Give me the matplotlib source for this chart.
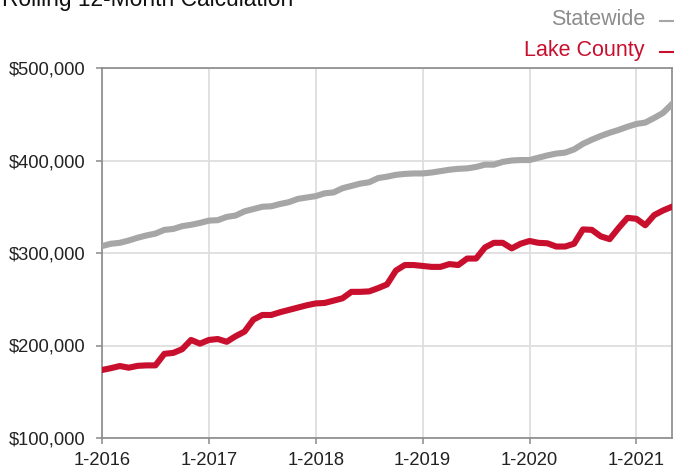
import matplotlib.pyplot as plt
from matplotlib.lines import Line2D

# monthly rolling 12-month median, 1-2016 .. 5-2021 (in $1,000s)
statewide = [307.5, 310, 311, 313.5, 316.5, 319, 321, 325, 326, 329, 330.5, 332.5,
             335, 335.5, 339, 340.5, 345, 347.5, 350, 350.5, 353, 355, 358.5, 360,
             361.5, 364.5, 365.5, 370, 372.5, 375, 376.5, 381, 382.5, 384.5, 385.5, 386,
             386, 387, 388.5, 390, 391, 391.5, 393, 395.5, 395.5, 398.5, 400, 400.5,
             400.5, 403, 405.5, 407.5, 408.5, 412, 418, 422.5, 426.5, 430, 433, 436.5,
             439.5, 441, 446, 451.5, 461]
lake_county = [173.5, 175.5, 177.8, 176, 178, 178.5, 178.5, 191, 192, 196, 206, 202,
               206, 207, 204, 210, 215, 228, 233, 233, 236, 238.5, 241, 243.5,
               245.5, 246, 248.5, 251, 258, 258, 258.5, 262, 266, 281, 287, 287,
               286, 285, 285, 288, 287, 294, 294, 306, 311, 311, 305, 310,
               313, 311, 310.5, 307, 307, 310, 325.5, 325, 318, 315, 327, 338,
               337, 330, 341, 346, 350]
year_labels = ["1-2016", "1-2017", "1-2018", "1-2019", "1-2020", "1-2021"]
y_ticks = [100, 200, 300, 400, 500]

GRAY = "#a6a6a6"
RED = "#c8102e"

plt.rcParams['font.family'] = ['Liberation Sans', 'DejaVu Sans']

fig = plt.figure(figsize=(6.74, 4.70), dpi=100)
ax = fig.add_axes([102 / 674, 1 - 438 / 470, 570 / 674, 370 / 470])

months = range(len(statewide))
ax.plot(months, [v * 1000 for v in statewide], color=GRAY, lw=4.4, solid_joinstyle='round', zorder=3)
ax.plot(months, [v * 1000 for v in lake_county], color=RED, lw=4.4, solid_joinstyle='round', zorder=3)

ax.set_xlim(0, 64)
ax.set_ylim(100000, 500000)
ax.set_xticks([12 * i for i in range(len(year_labels))])
ax.set_xticklabels(year_labels)
ax.set_yticks([v * 1000 for v in y_ticks])
ax.set_yticklabels([f"${v * 1000:,.0f}" for v in y_ticks])

ax.grid(True, color="#dedede", lw=1.3, zorder=0)
for s in ax.spines.values():
    s.set_color("#8a8a8a")
    s.set_linewidth(1.2)
ax.tick_params(axis='both', colors="#8a8a8a", labelcolor="#222222", labelsize=13.2, length=4, width=1.1)
ax.tick_params(axis='y', pad=8)
ax.tick_params(axis='x', pad=6)

# title (partly cut off at the top, as in the source)
fig.text(2 / 674, 1 - 6 / 470, "Rolling 12-Month Calculation", fontsize=16.4,
         color="#111111", ha='left', va='baseline')

# legend as right-aligned text with short dashes
for label, color, yc in [("Statewide", "#8c8c8c", 19.5), ("Lake County", RED, 50.8)]:
    fig.text(645 / 674, 1 - yc / 470, label, fontsize=15.5, color=color, ha='right', va='center')
    fig.add_artist(Line2D([660 / 674, 674 / 674], [1 - (yc + 1.5) / 470] * 2,
                          color=GRAY if label == "Statewide" else RED, lw=1.5))

fig.savefig("out.png", dpi=100)
